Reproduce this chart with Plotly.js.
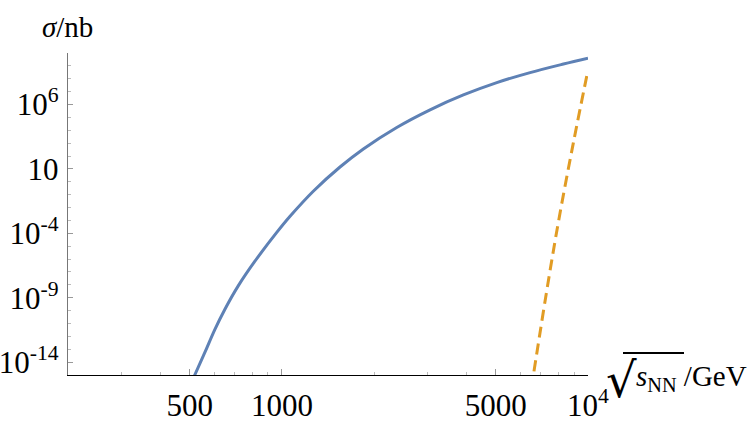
<!DOCTYPE html>
<html>
<head>
<meta charset="utf-8">
<script src="https://cdn.plot.ly/plotly-3.0.1.min.js"></script>
<style>html,body{margin:0;padding:0;background:#fff;}#chart{width:750px;height:425px;}</style>
</head>
<body>
<div id="chart"></div>
<script>
// Data (sqrt(s_NN) in GeV, sigma in nb)
const blueX = [497, 519, 560, 603, 650, 719, 815, 959, 1063, 1266, 1548, 1845, 2372, 3048, 3915, 5035, 6469, 8312, 10000];
const blueY = [1e-16, 1e-15, 5.6e-14, 3.2e-12, 1.17e-10, 7.9e-9, 6.5e-7, 1.07e-4, 2.1e-3, 0.186, 14.1, 355, 1.66e4, 3.9e5, 5.5e6, 5.0e7, 3.0e8, 1.38e9, 3.9e9];
const orangeX = [6531, 6631, 7335, 8004, 8960, 10000];
const orangeY = [1e-16, 1e-15, 3.7e-9, 7.6e-4, 1.1e3, 4.8e8];

const xTickVals = [500, 1000, 5000, 10000];
const xTickText = ['500', '1000', '5000', '10<sup>4</sup>'];
const xMinorVals = [300, 400, 600, 700, 800, 900, 2000, 3000, 4000, 6000, 7000, 8000, 9000];
const yTickVals = [1e-14, 1e-9, 1e-4, 10, 1e6];
const yTickText = ['10<sup>-14</sup>', '10<sup>-9</sup>', '10<sup>-4</sup>', '10', '10<sup>6</sup>'];

const serif = 'Liberation Serif';
const plotW = 750 - 68 - 162, plotH = 425 - 53 - 50;

const traces = [
  {x: blueX, y: blueY, type: 'scatter', mode: 'lines',
   line: {color: '#5E81B5', width: 3, shape: 'spline', smoothing: 1}, hoverinfo: 'skip'},
  {x: orangeX, y: orangeY, type: 'scatter', mode: 'lines',
   line: {color: '#E19C24', width: 3, dash: '11px,6px', shape: 'spline', smoothing: 1}, hoverinfo: 'skip'}
];

const layout = {
  width: 750, height: 425,
  margin: {l: 68, r: 162, t: 53, b: 50},
  paper_bgcolor: '#fff', plot_bgcolor: '#fff',
  showlegend: false,
  font: {family: serif, size: 31, color: '#000'},
  xaxis: {
    type: 'log', range: [Math.log10(200), 4],
    showgrid: false, zeroline: false,
    showline: true, linecolor: '#000', linewidth: 1.2,
    tickmode: 'array', tickvals: xTickVals, ticktext: xTickText,
    ticks: 'inside', ticklen: 6, tickcolor: '#999', tickwidth: 1,
    ticklabelstandoff: 3,
    tickfont: {family: serif, size: 31, color: '#000'},
    minor: {tickmode: 'array', tickvals: xMinorVals, ticks: 'inside', ticklen: 3, tickcolor: '#bbb', tickwidth: 1, showgrid: false}
  },
  yaxis: {
    type: 'log', range: [-15, 10],
    showgrid: false, zeroline: false,
    showline: true, linecolor: '#777', linewidth: 1.2,
    tickmode: 'array', tickvals: yTickVals, ticktext: yTickText,
    ticks: 'inside', ticklen: 5, tickcolor: '#999', tickwidth: 1,
    ticklabelstandoff: 2,
    tickfont: {family: serif, size: 31, color: '#000'},
    minor: {dtick: 1, ticks: 'inside', ticklen: 3, tickcolor: '#bbb', tickwidth: 1, showgrid: false}
  },
  annotations: [
    {xref: 'paper', yref: 'paper', x: -28 / plotW, y: 1.0, yshift: 8, xanchor: 'left', yanchor: 'bottom',
     text: '<i>σ</i>/nb', showarrow: false, font: {family: serif, size: 29, color: '#000'}},
    {xref: 'paper', yref: 'paper', x: (605 - 68) / plotW, y: 0, yshift: -34, xanchor: 'left', yanchor: 'bottom',
     borderpad: 0, text: '√', showarrow: false, font: {family: 'DejaVu Sans', size: 48, color: '#000'}},
    {xref: 'paper', yref: 'paper', x: (635 - 68) / plotW, y: 0, yshift: -22, xanchor: 'left', yanchor: 'bottom',
     borderpad: 0, text: '<i>s</i><sub>NN</sub> /GeV', showarrow: false, font: {family: serif, size: 29, color: '#000'}}
  ],
  shapes: [
    {type: 'line', xref: 'paper', yref: 'paper',
     x0: (623 - 68) / plotW, x1: (684 - 68) / plotW,
     y0: (375 - 353) / plotH, y1: (375 - 353) / plotH,
     line: {color: '#000', width: 2}}
  ]
};

Plotly.newPlot('chart', traces, layout, {staticPlot: true, displayModeBar: false});
</script>
</body>
</html>
